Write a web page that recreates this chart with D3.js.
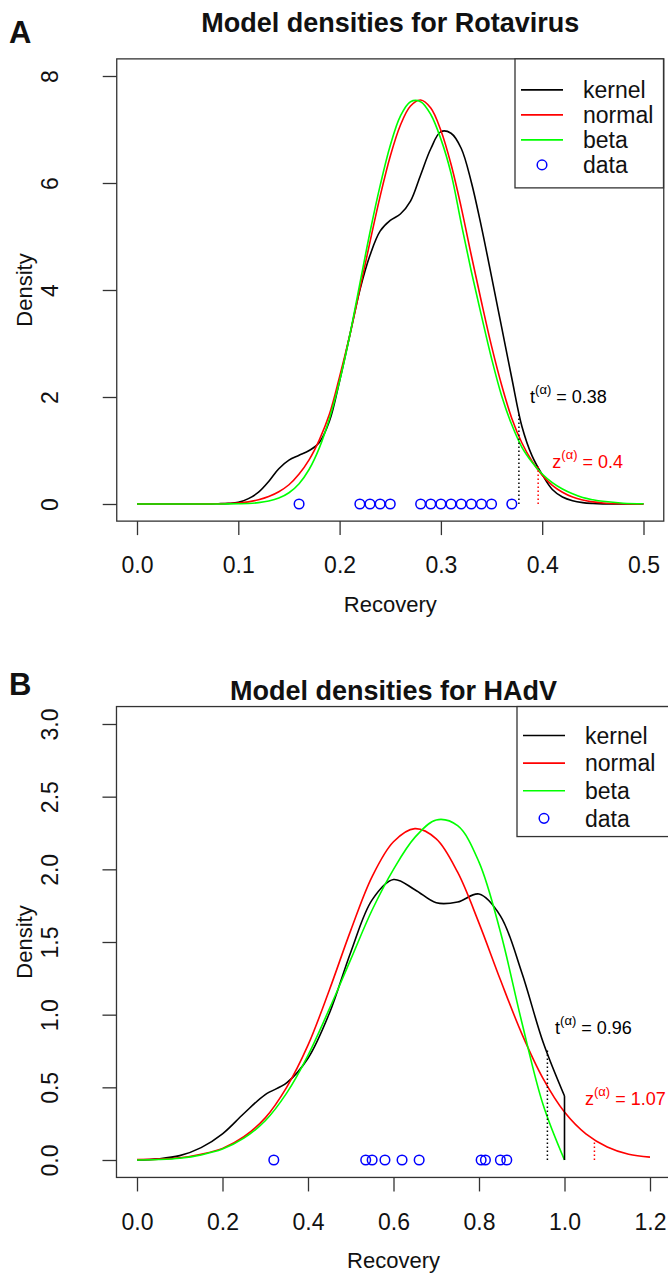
<!DOCTYPE html>
<html>
<head>
<meta charset="utf-8">
<script src="https://cdn.jsdelivr.net/npm/d3@7"></script>
<style>
  body { margin: 0; background: #fff; }
  text { font-family: "Liberation Sans", Arial, sans-serif; fill: #111; }
</style>
</head>
<body>
<div id="wrapper"></div>
<script>
// ---- panel A: Rotavirus ----
const gridA = [0, 0.04, 0.07, 0.08, 0.09, 0.10, 0.11, 0.12, 0.13, 0.14, 0.15, 0.16, 0.17, 0.18, 0.19, 0.20,
  0.21, 0.22, 0.23, 0.24, 0.25, 0.26, 0.27, 0.28, 0.29, 0.30, 0.31, 0.32, 0.33, 0.34, 0.35, 0.36, 0.37,
  0.38, 0.39, 0.40, 0.41, 0.42, 0.43, 0.44, 0.45, 0.46, 0.48, 0.50]
const kernelA = [0, 0, 0, 0.005, 0.012, 0.03, 0.10, 0.22, 0.42, 0.66, 0.82, 0.91, 1.00, 1.15, 1.55, 2.30,
  3.15, 4.00, 4.65, 5.10, 5.30, 5.42, 5.66, 6.15, 6.64, 6.96, 6.93, 6.65, 6.02, 5.18, 4.25, 3.30, 2.35,
  1.45, 0.90, 0.55, 0.27, 0.13, 0.06, 0.025, 0.01, 0.003, 0, 0]
const normalA = [0, 0, 0.002, 0.005, 0.01, 0.02, 0.04, 0.08, 0.14, 0.23, 0.36, 0.56, 0.83, 1.20, 1.68, 2.38,
  3.15, 4.02, 4.90, 5.75, 6.50, 7.08, 7.44, 7.55, 7.40, 6.98, 6.35, 5.55, 4.65, 3.78, 2.95, 2.22, 1.60,
  1.14, 0.80, 0.54, 0.35, 0.22, 0.13, 0.075, 0.04, 0.02, 0.005, 0.001]
const betaA = [0, 0, 0, 0, 0.002, 0.005, 0.01, 0.025, 0.055, 0.11, 0.21, 0.38, 0.65, 1.05, 1.60, 2.30,
  3.15, 4.12, 5.08, 5.95, 6.70, 7.25, 7.52, 7.52, 7.28, 6.82, 6.18, 5.25, 4.35, 3.52, 2.72, 2.02, 1.48,
  1.06, 0.78, 0.56, 0.40, 0.28, 0.19, 0.12, 0.08, 0.05, 0.015, 0.004]
const dataA = [0.16, 0.22, 0.23, 0.24, 0.25, 0.28, 0.29, 0.30, 0.31, 0.32, 0.33, 0.34, 0.35, 0.37]
const cutA = [0.377, 0.396]        // t, z
const cutTopA = [1.68, 0.72]
const cutLabelA = ['0.38', '0.4']
const xTicksA = [0, 0.1, 0.2, 0.3, 0.4, 0.5]
const yTicksA = [0, 2, 4, 6, 8]

// ---- panel B: HAdV ----
const gridB = [0, 0.05, 0.10, 0.15, 0.20, 0.25, 0.30, 0.35, 0.40, 0.45, 0.50, 0.55, 0.60, 0.65, 0.70,
  0.75, 0.80, 0.85, 0.90, 0.95, 1.00, 1.05, 1.10, 1.15, 1.20]
const kernelB = [0, 0.008, 0.03, 0.085, 0.18, 0.32, 0.45, 0.53, 0.70, 1.01, 1.43, 1.79, 1.93, 1.86, 1.77,
  1.775, 1.83, 1.68, 1.29, 0.81, 0.44]
const normalB = [0.003, 0.006, 0.015, 0.04, 0.08, 0.16, 0.29, 0.50, 0.79, 1.17, 1.58, 1.95, 2.19, 2.28, 2.21,
  1.98, 1.63, 1.24, 0.87, 0.56, 0.33, 0.18, 0.09, 0.04, 0.02]
const betaB = [0, 0.003, 0.012, 0.035, 0.075, 0.15, 0.27, 0.46, 0.72, 1.04, 1.38, 1.72, 2.00, 2.22, 2.34,
  2.30, 2.05, 1.57, 0.95, 0.38, 0]
const dataB = [0.32, 0.535, 0.55, 0.58, 0.62, 0.66, 0.805, 0.815, 0.85, 0.865]
const cutB = [0.96, 1.07]
const cutTopB = [0.76, 0.14]
const cutLabelB = ['0.96', '1.07']
const xTicksB = [0, 0.2, 0.4, 0.6, 0.8, 1.0, 1.2]
const yTicksB = [0, 0.5, 1.0, 1.5, 2.0, 2.5, 3.0]

const legendKeys = ['kernel', 'normal', 'beta', 'data']
const colors = { kernel: '#000000', normal: '#ff0000', beta: '#00ff00', data: '#0000ff' }

const svg = d3.select('#wrapper').append('svg')
  .attr('width', 668)
  .attr('height', 1273)

const panels = [
  {
    letter: 'A', title: 'Model densities for Rotavirus',
    grid: gridA, kernel: kernelA, normal: normalA, beta: betaA, data: dataA,
    cut: cutA, cutTop: cutTopA, cutLabel: cutLabelA,
    xTicks: xTicksA, yTicks: yTicksA, yFmt: d3.format('d'),
    xRange: [137, 643.5], yRange: [504, 76],
    titleY: 32, letterY: 43,
    labelPos: [[0.388, 1.88], [0.41, 0.68]],
    legend: { x: 515, right: 663.5, first: 31, step: 25, h: 129 },
  },
  {
    letter: 'B', title: 'Model densities for HAdV',
    grid: gridB, kernel: kernelB, normal: normalB, beta: betaB, data: dataB,
    cut: cutB, cutTop: cutTopB, cutLabel: cutLabelB,
    xTicks: xTicksB, yTicks: yTicksB, yFmt: d3.format('.1f'),
    xRange: [137, 650], yRange: [1160, 724],
    titleY: 700, letterY: 695,
    labelPos: [[0.978, 0.87], [1.048, 0.38]],
    legend: { x: 517, right: 690, first: 29, step: 27.6, h: 130 },
  },
]

const drawPanel = (p) => {
  const x = d3.scaleLinear()
    .domain([p.xTicks[0], p.xTicks[p.xTicks.length - 1]])
    .range(p.xRange)
  const y = d3.scaleLinear()
    .domain([p.yTicks[0], p.yTicks[p.yTicks.length - 1]])
    .range(p.yRange)

  // R style box: 4% beyond the data range on every side
  const [xa, xb] = x.domain()
  const [ya, yb] = y.domain()
  const box = {
    left: x(xa - 0.04 * (xb - xa)), right: x(xb + 0.04 * (xb - xa)),
    top: y(yb + 0.04 * (yb - ya)), bottom: y(ya - 0.04 * (yb - ya)),
  }
  const midX = (box.left + box.right) / 2

  const g = svg.append('g')

  g.append('text')
    .text(p.letter)
    .attr('x', 9)
    .attr('y', p.letterY)
    .style('font-size', '31px')
    .style('font-weight', 'bold')

  g.append('text')
    .text(p.title)
    .attr('x', midX)
    .attr('y', p.titleY)
    .style('font-size', '27px')
    .style('font-weight', 'bold')
    .style('text-anchor', 'middle')

  // axes
  const xAxis = g.append('g')
    .attr('transform', `translate(0, ${box.bottom})`)
    .call(d3.axisBottom(x).tickValues(p.xTicks).tickFormat(d3.format('.1f')).tickSize(14).tickSizeOuter(0))
  xAxis.select('.domain').remove()
  xAxis.selectAll('line').attr('stroke', '#333').attr('stroke-width', 1.3)
  xAxis.selectAll('text')
    .attr('y', 36)
    .attr('fill', '#111')
    .style('font-size', '23px')
    .style('font-family', '"Liberation Sans", Arial, sans-serif')

  const yAxis = g.append('g')
    .attr('transform', `translate(${box.left}, 0)`)
    .call(d3.axisLeft(y).tickValues(p.yTicks).tickFormat(p.yFmt).tickSize(14).tickSizeOuter(0))
  yAxis.select('.domain').remove()
  yAxis.selectAll('line').attr('stroke', '#333').attr('stroke-width', 1.3)
  yAxis.selectAll('text')
    .attr('x', null)
    .attr('dy', '0.36em')
    .attr('transform', `translate(${50 - box.left}, 0) rotate(-90)`)
    .attr('fill', '#111')
    .style('text-anchor', 'middle')
    .style('font-size', '23px')
    .style('font-family', '"Liberation Sans", Arial, sans-serif')

  g.append('text')
    .text('Recovery')
    .attr('x', midX)
    .attr('y', box.bottom + 91)
    .style('font-size', '22px')
    .style('text-anchor', 'middle')

  g.append('text')
    .text('Density')
    .attr('transform', `translate(${24}, ${(box.top + box.bottom) / 2}) rotate(-90)`)
    .attr('dy', '0.36em')
    .style('font-size', '22px')
    .style('text-anchor', 'middle')

  // curves
  const plot = g.append('g')
  const line = d3.line()
    .x((d) => x(d[0]))
    .y((d) => y(d[1]))
    .curve(d3.curveCatmullRom.alpha(0.5))

  const series = [
    ['kernel', p.kernel],
    ['normal', p.normal],
    ['beta', p.beta],
  ]
  series.forEach(([key, values]) => {
    plot.append('path')
      .datum(values.map((v, i) => [p.grid[i], v]))
      .attr('d', line)
      .attr('fill', 'none')
      .attr('stroke', colors[key])
      .attr('stroke-width', 1.6)
  })

  // kernel of B is cut at 1.0: straight drop to zero
  if (p.kernel.length < p.grid.length) {
    const last = p.kernel.length - 1
    plot.append('line')
      .attr('x1', x(p.grid[last])).attr('x2', x(p.grid[last]))
      .attr('y1', y(p.kernel[last])).attr('y2', y(0))
      .attr('stroke', colors.kernel)
      .attr('stroke-width', 1.6)
  }

  plot.selectAll('circle')
    .data(p.data)
    .join('circle')
    .attr('cx', (d) => x(d))
    .attr('cy', y(0))
    .attr('r', 4.8)
    .attr('fill', 'none')
    .attr('stroke', colors.data)
    .attr('stroke-width', 1.5)

  // cut-off lines and labels
  const cutColors = ['#000000', '#ff0000']
  const cutNames = ['t', 'z']
  p.cut.forEach((c, i) => {
    plot.append('line')
      .attr('x1', x(c)).attr('x2', x(c))
      .attr('y1', y(0)).attr('y2', y(p.cutTop[i]))
      .attr('stroke', cutColors[i])
      .attr('stroke-width', 1.5)
      .attr('stroke-dasharray', '1.5,2.5')

    const label = plot.append('text')
      .attr('x', x(p.labelPos[i][0]))
      .attr('y', y(p.labelPos[i][1]))
      .style('font-size', '18px')
      .style('fill', cutColors[i])
    label.append('tspan').text(cutNames[i])
    label.append('tspan').text('(α)').attr('dy', -9).style('font-size', '13px')
    label.append('tspan').text(' = ' + p.cutLabel[i]).attr('dy', 9)
  })

  // frame
  g.append('rect')
    .attr('x', box.left)
    .attr('y', box.top)
    .attr('width', box.right - box.left)
    .attr('height', box.bottom - box.top)
    .attr('fill', 'none')
    .attr('stroke', '#333')
    .attr('stroke-width', 1.3)

  // legend
  const lg = g.append('g')
  lg.append('rect')
    .attr('x', p.legend.x)
    .attr('y', box.top)
    .attr('width', p.legend.right - p.legend.x)
    .attr('height', p.legend.h)
    .attr('fill', '#fff')
    .attr('stroke', '#333')
    .attr('stroke-width', 1.3)

  legendKeys.forEach((key, i) => {
    const ly = box.top + p.legend.first + i * p.legend.step
    if (key === 'data') {
      lg.append('circle')
        .attr('cx', p.legend.x + 27)
        .attr('cy', ly)
        .attr('r', 4.8)
        .attr('fill', 'none')
        .attr('stroke', colors[key])
        .attr('stroke-width', 1.5)
    } else {
      lg.append('line')
        .attr('x1', p.legend.x + 6).attr('x2', p.legend.x + 48)
        .attr('y1', ly).attr('y2', ly)
        .attr('stroke', colors[key])
        .attr('stroke-width', 1.6)
    }
    lg.append('text')
      .text(key)
      .attr('x', p.legend.x + 68)
      .attr('y', ly)
      .attr('dy', '0.36em')
      .style('font-size', '23px')
  })
}

panels.forEach(drawPanel)
</script>
</body>
</html>
